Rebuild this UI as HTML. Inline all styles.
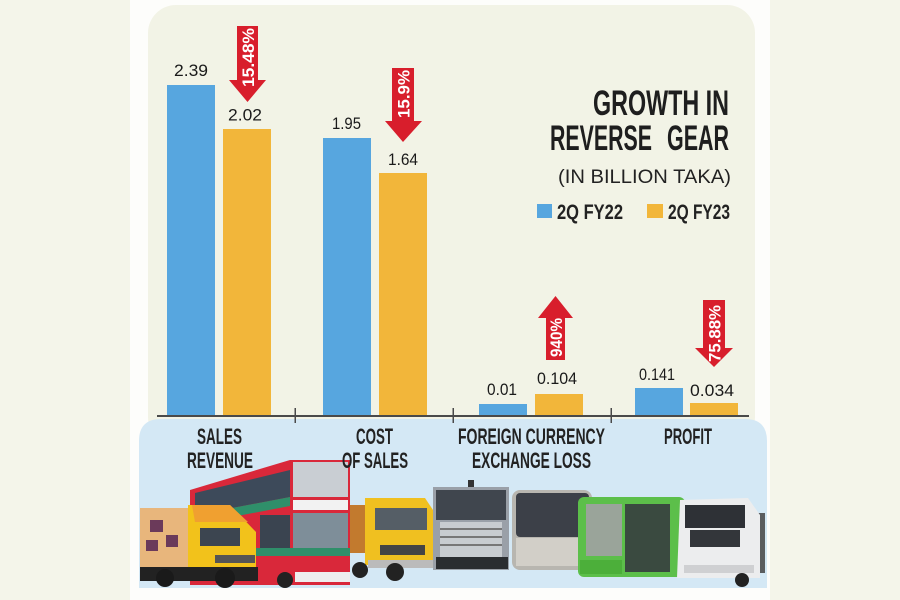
<!DOCTYPE html>
<html>
<head>
<meta charset="utf-8">
<style>
html,body{margin:0;padding:0;background:#f4f5ea;}
svg{display:block;}
text{font-family:"Liberation Sans",sans-serif;}
</style>
</head>
<body>
<svg width="900" height="600" viewBox="0 0 900 600" xmlns="http://www.w3.org/2000/svg">
  <!-- backgrounds -->
  <rect x="0" y="0" width="900" height="600" fill="#f4f5ea"/>
  <rect x="130" y="0" width="640" height="600" fill="#fdfdfb"/>
  <rect x="148" y="5" width="607" height="440" rx="28" ry="28" fill="#f2f3e6"/>
  <path d="M139,441 Q139,419 161,419 L745,419 Q767,419 767,441 L767,588 L139,588 Z" fill="#d4e8f5"/>

  <!-- bars -->
  <rect x="167" y="85" width="48" height="331" fill="#57a6df"/>
  <rect x="223" y="129" width="48" height="287" fill="#f2b63a"/>
  <rect x="323" y="138" width="48" height="278" fill="#57a6df"/>
  <rect x="379" y="173" width="48" height="243" fill="#f2b63a"/>
  <rect x="479" y="404" width="48" height="12" fill="#57a6df"/>
  <rect x="535" y="394" width="48" height="22" fill="#f2b63a"/>
  <rect x="635" y="388" width="48" height="28" fill="#57a6df"/>
  <rect x="690" y="403" width="48" height="13" fill="#f2b63a"/>

  <!-- axis -->
  <rect x="157" y="415" width="592" height="2" fill="#4a4a4a"/>
  <rect x="294.5" y="408" width="1.5" height="15" fill="#4a4a4a"/>
  <rect x="452.5" y="408" width="1.5" height="15" fill="#4a4a4a"/>
  <rect x="610.5" y="408" width="1.5" height="15" fill="#4a4a4a"/>

  <!-- value labels -->
  <g font-size="17" fill="#1a1a1a" text-anchor="middle">
    <text x="191" y="76" textLength="34" lengthAdjust="spacingAndGlyphs">2.39</text>
    <text x="245" y="120.5" textLength="34" lengthAdjust="spacingAndGlyphs">2.02</text>
    <text x="346.5" y="129" textLength="29" lengthAdjust="spacingAndGlyphs">1.95</text>
    <text x="403" y="165" textLength="30" lengthAdjust="spacingAndGlyphs">1.64</text>
    <text x="502" y="395" textLength="30" lengthAdjust="spacingAndGlyphs">0.01</text>
    <text x="557" y="384" textLength="40" lengthAdjust="spacingAndGlyphs">0.104</text>
    <text x="657" y="380" textLength="36" lengthAdjust="spacingAndGlyphs">0.141</text>
    <text x="712" y="396" textLength="44" lengthAdjust="spacingAndGlyphs">0.034</text>
  </g>

  <!-- arrows -->
  <g fill="#d81e2c">
    <polygon points="237,26 258,26 258,80 266,80 247.5,102 229,80 237,80"/>
    <polygon points="392,68 414,68 414,121 422,121 403,142 385,121 392,121"/>
    <polygon points="555.5,296 573,318 565,318 565,360 546,360 546,318 538,318"/>
    <polygon points="703,300 725,300 725,348 733,348 714,367 695,348 703,348"/>
  </g>
  <g font-size="17" font-weight="bold" fill="#ffffff" text-anchor="middle">
    <text transform="translate(248,57.5) rotate(-90)" dy="6" textLength="59" lengthAdjust="spacingAndGlyphs">15.48%</text>
    <text transform="translate(403.5,94) rotate(-90)" dy="6" textLength="48" lengthAdjust="spacingAndGlyphs">15.9%</text>
    <text transform="translate(556,337.5) rotate(-90)" dy="6" textLength="39" lengthAdjust="spacingAndGlyphs">940%</text>
    <text transform="translate(714.5,333.5) rotate(-90)" dy="6" textLength="57" lengthAdjust="spacingAndGlyphs">75.88%</text>
  </g>

  <!-- title -->
  <g fill="#1e1e1e" font-weight="bold">
    <text x="593" y="115" font-size="35" textLength="136" lengthAdjust="spacingAndGlyphs">GROWTH IN</text>
    <text x="550" y="150" font-size="35" textLength="102" lengthAdjust="spacingAndGlyphs">REVERSE</text>
    <text x="667" y="150" font-size="35" textLength="62" lengthAdjust="spacingAndGlyphs">GEAR</text>
  </g>
  <text x="558" y="183" font-size="19" fill="#222" textLength="173" lengthAdjust="spacingAndGlyphs">(IN BILLION TAKA)</text>

  <!-- legend -->
  <rect x="537" y="204" width="15" height="14" fill="#57a6df"/>
  <rect x="647" y="204" width="16" height="14" fill="#f2b63a"/>
  <g font-size="21" font-weight="bold" fill="#222">
    <text x="557" y="219" textLength="66" lengthAdjust="spacingAndGlyphs">2Q FY22</text>
    <text x="668" y="219" textLength="62" lengthAdjust="spacingAndGlyphs">2Q FY23</text>
  </g>

  <!-- vehicles -->
  <!-- yellow truck (behind bus) -->
  <rect x="343" y="505" width="28" height="48" fill="#c27a2e"/>
  <polygon points="365,498 425,498 433,510 433,565 365,565" fill="#f0c020"/>
  <rect x="375" y="508" width="52" height="22" fill="#555e66"/>
  <rect x="380" y="545" width="45" height="10" fill="#444"/>
  <rect x="368" y="560" width="65" height="8" fill="#bbbbbb"/>
  <circle cx="395" cy="572" r="9" fill="#222"/>
  <circle cx="360" cy="570" r="8" fill="#222"/>

  <!-- red double decker -->
  <polygon points="190,490 290,460 350,460 350,585 190,585" fill="#d9283a"/>
  <polygon points="195,493 290,470 290,497 195,515" fill="#3d4a5a"/>
  <polygon points="195,515 290,497 290,506 195,524" fill="#2f8f6a"/>
  <rect x="293" y="462" width="55" height="35" fill="#c9ced3"/>
  <rect x="293" y="500" width="55" height="10" fill="#f2f2f2"/>
  <rect x="260" y="515" width="30" height="33" fill="#3a4450"/>
  <rect x="293" y="513" width="55" height="37" fill="#7e8e99"/>
  <rect x="255" y="548" width="95" height="8" fill="#2f8f6a"/>
  <rect x="295" y="572" width="55" height="10" fill="#eeeeee"/>
  <circle cx="285" cy="580" r="8" fill="#222"/>

  <!-- box truck -->
  <rect x="140" y="508" width="55" height="60" fill="#e8b67c"/>
  <rect x="150" y="520" width="13" height="12" fill="#6b3a5a"/>
  <rect x="166" y="535" width="12" height="12" fill="#6b3a5a"/>
  <rect x="146" y="540" width="12" height="11" fill="#6b3a5a"/>
  <polygon points="188,505 230,505 256,532 256,573 188,573" fill="#f2c21b"/>
  <polygon points="192,505 230,505 248,522 195,522" fill="#f0a030"/>
  <rect x="200" y="528" width="40" height="18" fill="#3c4550"/>
  <rect x="215" y="555" width="40" height="8" fill="#555"/>
  <rect x="140" y="567" width="118" height="14" fill="#222"/>
  <circle cx="165" cy="578" r="9" fill="#1a1a1a"/>
  <circle cx="225" cy="578" r="10" fill="#1a1a1a"/>

  <!-- silver truck -->
  <rect x="468" y="480" width="6" height="10" fill="#333"/>
  <rect x="433" y="487" width="76" height="83" fill="#9aa0a8"/>
  <rect x="436" y="490" width="70" height="30" fill="#40464e"/>
  <rect x="440" y="522" width="62" height="35" fill="#c8ccd0"/>
  <rect x="440" y="528" width="62" height="2" fill="#777"/>
  <rect x="440" y="536" width="62" height="2" fill="#777"/>
  <rect x="440" y="544" width="62" height="2" fill="#777"/>
  <rect x="436" y="557" width="72" height="12" fill="#2a2d30"/>

  <!-- silver bus -->
  <rect x="512" y="490" width="80" height="80" rx="8" fill="#b8b6b0"/>
  <rect x="516" y="493" width="73" height="44" rx="4" fill="#3c4048"/>
  <rect x="516" y="538" width="73" height="28" fill="#d2cfc8"/>

  <!-- green bus -->
  <rect x="578" y="497" width="107" height="80" rx="6" fill="#5cbf4a"/>
  <rect x="586" y="504" width="36" height="52" fill="#9aa49a"/>
  <rect x="625" y="504" width="45" height="68" fill="#3a4a40"/>
  <rect x="580" y="560" width="42" height="14" fill="#4caf3a"/>

  <!-- white truck -->
  <rect x="747" y="513" width="18" height="60" fill="#5a5d60"/>
  <polygon points="680,500 748,498 760,515 760,578 677,578" fill="#ecedee"/>
  <rect x="685" y="505" width="60" height="23" fill="#2e3136"/>
  <rect x="690" y="530" width="50" height="17" fill="#33363a"/>
  <rect x="684" y="565" width="70" height="8" fill="#cfd0d2"/>
  <circle cx="742" cy="580" r="7" fill="#222"/>

  <!-- category labels -->
  <g font-size="22" font-weight="bold" fill="#222">
    <text x="197" y="444" textLength="45" lengthAdjust="spacingAndGlyphs">SALES</text>
    <text x="187" y="468" textLength="66" lengthAdjust="spacingAndGlyphs">REVENUE</text>
    <text x="356" y="444" textLength="37" lengthAdjust="spacingAndGlyphs">COST</text>
    <text x="342" y="468" textLength="66" lengthAdjust="spacingAndGlyphs">OF SALES</text>
    <text x="458" y="444" textLength="147" lengthAdjust="spacingAndGlyphs">FOREIGN CURRENCY</text>
    <text x="472" y="468" textLength="119" lengthAdjust="spacingAndGlyphs">EXCHANGE LOSS</text>
    <text x="664" y="444" textLength="48" lengthAdjust="spacingAndGlyphs">PROFIT</text>
  </g>
</svg>
</body>
</html>
